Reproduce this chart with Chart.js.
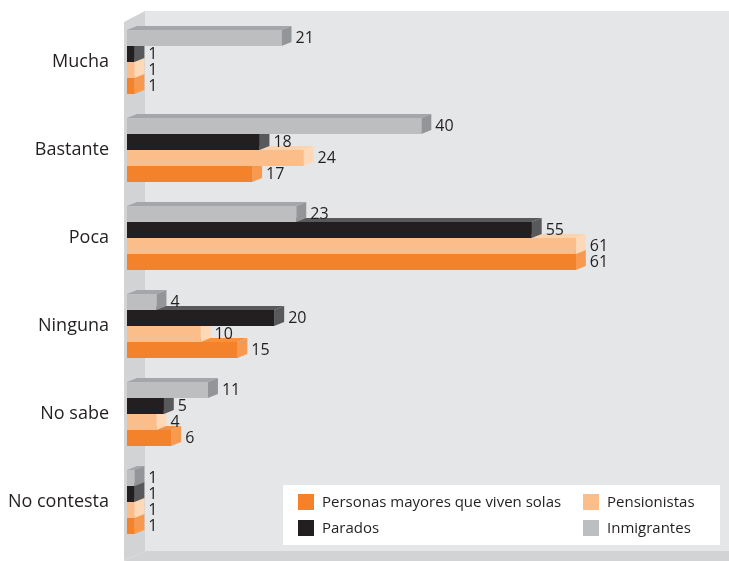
<!DOCTYPE html>
<html lang="es">
<head>
<meta charset="UTF-8">
<title>Grado de preocupación</title>
<script src="https://cdn.jsdelivr.net/npm/chart.js"></script>
<style>
  html, body { margin: 0; padding: 0; background: #fff; }
  #wrap { width: 729px; height: 561px; position: relative; }
</style>
</head>
<body>
<div id="wrap"><canvas id="chart" width="729" height="561"></canvas></div>
<script>
const categories = ["Mucha", "Bastante", "Poca", "Ninguna", "No sabe", "No contesta"];
const inmigrantes = [21, 40, 23, 4, 11, 1];
const parados = [1, 18, 55, 20, 5, 1];
const pensionistas = [1, 24, 61, 10, 4, 1];
const personasMayores = [1, 17, 61, 15, 6, 1];

const seriesNames = ["Inmigrantes", "Parados", "Pensionistas", "Personas mayores que viven solas"];
const seriesValues = [inmigrantes, parados, pensionistas, personasMayores];
// front, top and side colours of the 3d bars
const frontColors = ["#bcbec0", "#231f20", "#fbbd89", "#f4822a"];
const topColors = ["#a4a6a9", "#58595b", "#fdd3ad", "#f6923f"];
const sideColors = ["#939598", "#58595b", "#fdd9b8", "#f79a4f"];
// legend is laid out in two columns, row by row
const legendOrder = [3, 2, 1, 0];

const TEXT = "#231f20";
const FONT = "'Open Sans', 'Noto Sans', sans-serif";
const DX = 10, DY = -4;

const wallsPlugin = {
  id: "walls",
  beforeDraw(chart) {
    const { ctx, chartArea: ca } = chart;
    const left = ca.left - 3;
    const wallX = ca.left + 18;
    const top = ca.top - 7;
    const floorY = ca.bottom + 5;
    ctx.save();
    ctx.fillStyle = "#e5e6e8";
    ctx.fillRect(wallX, top, chart.width - wallX, floorY - top);
    ctx.fillStyle = "#d1d3d4";
    ctx.beginPath();
    ctx.moveTo(left, top + 11);
    ctx.lineTo(wallX, top);
    ctx.lineTo(wallX, floorY);
    ctx.lineTo(left, chart.height);
    ctx.closePath();
    ctx.fill();
    ctx.beginPath();
    ctx.moveTo(left, chart.height);
    ctx.lineTo(wallX, floorY);
    ctx.lineTo(chart.width, floorY);
    ctx.lineTo(chart.width, chart.height);
    ctx.closePath();
    ctx.fill();
    ctx.restore();
  }
};

const bars3dPlugin = {
  id: "bars3d",
  afterDatasetsDraw(chart) {
    const ctx = chart.ctx;
    const n = chart.data.datasets.length;
    const metas = [];
    for (let i = 0; i < n; i++) metas.push(chart.getDatasetMeta(i));
    ctx.save();
    // bottom bar of each group first, so the bar above hides its top face
    for (let i = n - 1; i >= 0; i--) {
      metas[i].data.forEach(el => {
        const { x, y, base, height } = el.getProps(["x", "y", "base", "height"], true);
        const y0 = y - height / 2, y1 = y + height / 2;
        ctx.fillStyle = topColors[i];
        ctx.beginPath();
        ctx.moveTo(base, y0);
        ctx.lineTo(base + DX, y0 + DY);
        ctx.lineTo(x + DX, y0 + DY);
        ctx.lineTo(x, y0);
        ctx.closePath();
        ctx.fill();
        ctx.fillStyle = sideColors[i];
        ctx.beginPath();
        ctx.moveTo(x, y0);
        ctx.lineTo(x + DX, y0 + DY);
        ctx.lineTo(x + DX, y1 + DY);
        ctx.lineTo(x, y1);
        ctx.closePath();
        ctx.fill();
        ctx.fillStyle = frontColors[i];
        ctx.fillRect(base, y0, x - base, height);
      });
    }
    // value labels
    ctx.font = "16px " + FONT;
    ctx.fillStyle = TEXT;
    ctx.textBaseline = "middle";
    ctx.textAlign = "left";
    for (let i = 0; i < n; i++) {
      metas[i].data.forEach((el, j) => {
        const { x, y } = el.getProps(["x", "y"], true);
        ctx.fillText(String(chart.data.datasets[i].data[j]), x + 14, y);
      });
    }
    ctx.restore();
  }
};

const legendPlugin = {
  id: "boxLegend",
  afterDraw(chart) {
    const { ctx, chartArea: ca } = chart;
    const bx = ca.left + 156, by = ca.bottom - 61, bw = 437, bh = 60;
    ctx.save();
    ctx.fillStyle = "#ffffff";
    ctx.fillRect(bx, by, bw, bh);
    ctx.font = "15px " + FONT;
    ctx.textBaseline = "middle";
    ctx.textAlign = "left";
    legendOrder.forEach((di, k) => {
      const col = k % 2, row = Math.floor(k / 2);
      const sx = bx + 15 + col * 285;
      const sy = by + 17 + row * 26;
      ctx.fillStyle = frontColors[di];
      ctx.fillRect(sx, sy - 8, 16, 16);
      ctx.fillStyle = TEXT;
      ctx.fillText(chart.data.datasets[di].label, sx + 24, sy + 1);
    });
    ctx.restore();
  }
};

new Chart(document.getElementById("chart"), {
  type: "bar",
  data: {
    labels: categories,
    datasets: seriesNames.map((name, i) => ({
      label: name,
      data: seriesValues[i],
      backgroundColor: frontColors[i],
      borderWidth: 0,
      barPercentage: 1,
      categoryPercentage: 64 / 88
    }))
  },
  options: {
    indexAxis: "y",
    responsive: false,
    animation: false,
    layout: { padding: { top: 18, bottom: 15, right: 6, left: 0 } },
    plugins: {
      legend: { display: false },
      tooltip: { enabled: false }
    },
    scales: {
      x: { display: false, min: 0, max: 81 },
      y: {
        grid: { display: false, drawTicks: false },
        border: { display: false },
        ticks: { color: TEXT, font: { family: FONT, size: 18 }, padding: 18 },
        afterFit(scale) {
          scale.width = 127;
          scale.paddingTop = 0;
          scale.paddingBottom = 0;
        }
      }
    }
  },
  plugins: [wallsPlugin, bars3dPlugin, legendPlugin]
});
</script>
</body>
</html>
